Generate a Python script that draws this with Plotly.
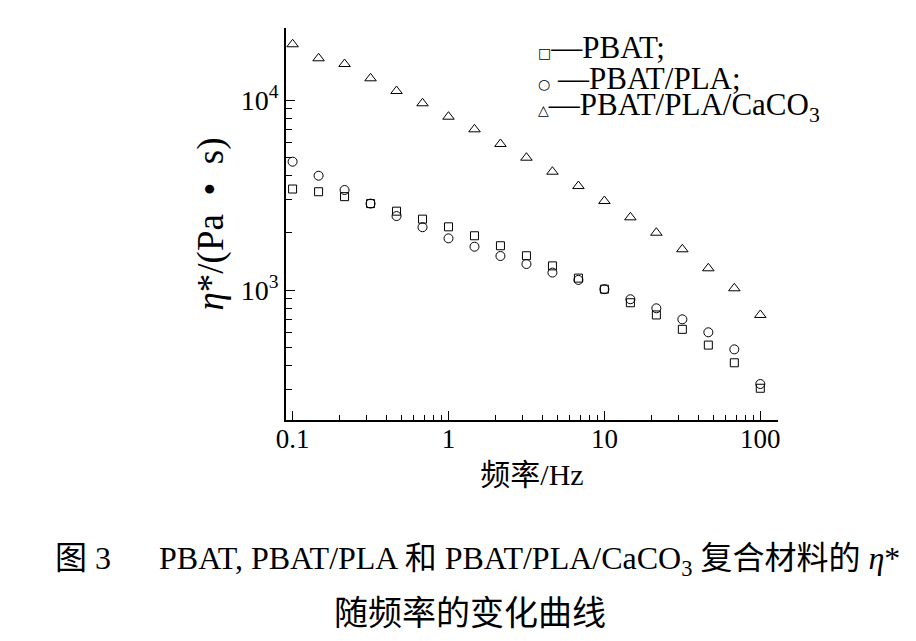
import plotly.graph_objects as go

# frequency sweep (Hz), 6 points per decade
freq = [0.1, 0.1468, 0.2154, 0.3162, 0.4642, 0.6813, 1.0, 1.468, 2.154, 3.162,
        4.642, 6.813, 10.0, 14.68, 21.54, 31.62, 46.42, 68.13, 100.0]

# complex viscosity eta* (Pa·s)
pbat = [3400, 3290, 3100, 2850, 2600, 2360, 2150, 1930, 1710, 1515,
        1340, 1155, 1010, 857, 739, 621, 513, 414, 304]
pbat_pla = [4735, 3995, 3360, 2850, 2450, 2140, 1870, 1690, 1510, 1370,
            1235, 1130, 1010, 894, 801, 701, 599, 487, 320]
pbat_pla_caco3 = [19650, 16580, 15470, 13010, 11150, 9610, 8170, 7010, 5870, 4970,
                  4195, 3525, 2940, 2413, 2002, 1638, 1301, 1021, 739]

series_names = ["PBAT;", "PBAT/PLA;", "PBAT/PLA/CaCO<sub>3</sub>"]
x_ticks = [0.1, 1, 10, 100]
x_ticktext = ["0.1", "1", "10", "100"]
y_ticks = [1000, 10000]
y_ticktext = ["10<sup>3</sup>", "10<sup>4</sup>"]

SERIF = "Times New Roman, Liberation Serif, Noto Sans CJK SC, serif"

# the page body has an 8px margin, so the figure is drawn 8px in from the corner
OFF = 8
W, H = 916 - OFF, 641 - OFF
# plot-area edges, in page pixels
L, R, T, B = 286 - OFF, 778 - OFF, 28 - OFF, 420 - OFF


def px_x(x):
    return (x - OFF - L) / (R - L)


def px_y(y):
    return (B - (y - OFF)) / (B - T)


fig = go.Figure()

markers = [
    ("square-open", 8, pbat),
    ("circle-open", 9, pbat_pla),
    ("triangle-up-open", 10, pbat_pla_caco3),
]
for name, (sym, size, vals) in zip(series_names, markers):
    fig.add_trace(go.Scatter(
        x=freq, y=vals, mode="markers", name=name,
        marker=dict(symbol=sym, size=size, color="black",
                    line=dict(color="black", width=1)),
        showlegend=False,
    ))

# text legend, as drawn in the figure
GLYPH = '<span style="font-family:DejaVu Sans;font-size:14px;color:black">{}</span>'
legend_rows = [
    (GLYPH.format("□") + "—", series_names[0], 48),
    (GLYPH.format("○") + " —", series_names[1], 79),
    (GLYPH.format("△") + "—", series_names[2], 107),
]
annotations = []
for glyph, label, y in legend_rows:
    annotations.append(dict(
        x=px_x(536), y=px_y(y), xref="paper", yref="paper",
        xanchor="left", yanchor="middle", showarrow=False,
        text=glyph + label, font=dict(family=SERIF, size=31, color="black"),
    ))

# caption
annotations.append(dict(
    x=px_x(477), y=px_y(560), xref="paper", yref="paper",
    xanchor="center", yanchor="middle", showarrow=False,
    text="图 3\u3000\u2002PBAT, PBAT/PLA 和 PBAT/PLA/CaCO<sub>3</sub> 复合材料的 <i>η</i>*",
    font=dict(family=SERIF, size=32, color="black"),
))
annotations.append(dict(
    x=px_x(470), y=px_y(613), xref="paper", yref="paper",
    xanchor="center", yanchor="middle", showarrow=False,
    text="随频率的变化曲线",
    font=dict(family=SERIF, size=34, color="black"),
))

minor_x = [m * 10 ** k for k in (-1, 0, 1) for m in range(2, 10)]
minor_y = [m * 10 ** k for k in (2, 3) for m in range(2, 10) if m * 10 ** k >= 300]

fig.update_layout(
    width=W, height=H,
    margin=dict(l=L, r=W - R, t=T, b=H - B),
    paper_bgcolor="white", plot_bgcolor="white",
    font=dict(family=SERIF, color="black"),
    showlegend=False,
    xaxis=dict(
        type="log", range=[-1.0423, 2.1135], automargin=False,
        tickvals=x_ticks, ticktext=x_ticktext,
        ticks="inside", ticklen=9, tickwidth=1.2, tickcolor="black",
        minor=dict(tickvals=minor_x, ticks="inside", ticklen=5,
                   tickwidth=1, tickcolor="black", showgrid=False),
        showline=True, linecolor="black", linewidth=1.5,
        showgrid=False, zeroline=False,
        tickfont=dict(family=SERIF, size=27, color="black"),
        ticklabelstandoff=-6,
        title=dict(text="频率/Hz", standoff=11,
                   font=dict(family=SERIF, size=30, color="black")),
    ),
    yaxis=dict(
        type="log", range=[2.3158, 4.379], automargin=False,
        tickvals=y_ticks, ticktext=y_ticktext,
        ticks="inside", ticklen=9, tickwidth=1.2, tickcolor="black",
        minor=dict(tickvals=minor_y, ticks="inside", ticklen=6,
                   tickwidth=1, tickcolor="black", showgrid=False),
        showline=True, linecolor="black", linewidth=1.5,
        showgrid=False, zeroline=False,
        tickfont=dict(family=SERIF, size=28, color="black"),
        title=dict(text="<i>η</i>*/(Pa\u2002•\u2002s)", standoff=6,
                   font=dict(family=SERIF, size=37, color="black")),
    ),
    annotations=annotations,
)

fig.write_html("out.html")
